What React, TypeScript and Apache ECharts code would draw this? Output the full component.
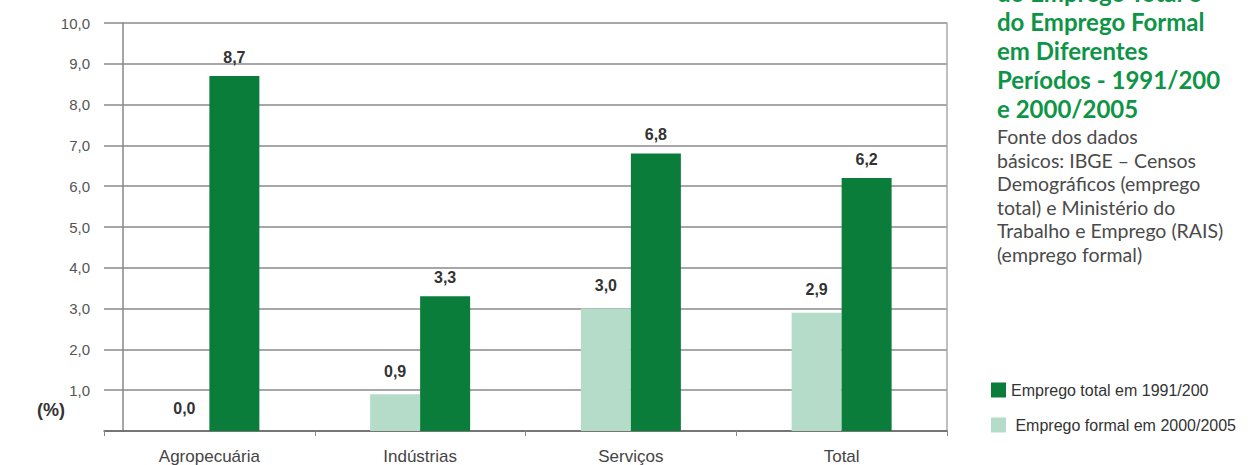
import React, { useEffect, useRef } from "react";
import * as echarts from "echarts";

const categories = ["Agropecuária", "Indústrias", "Serviços", "Total"];
const empregoFormal = [0.0, 0.9, 3.0, 2.9];
const empregoTotal = [8.7, 3.3, 6.8, 6.2];
const yMin = 0;
const yMax = 10;
const yInterval = 1;

const titleLines = [
  "do Emprego Total e",
  "do Emprego Formal",
  "em Diferentes",
  "Períodos - 1991/200",
  "e 2000/2005",
];
const sourceLines = [
  "Fonte dos dados",
  "básicos: IBGE – Censos",
  "Demográficos (emprego",
  "total) e Ministério do",
  "Trabalho e Emprego (RAIS)",
  "(emprego formal)",
];
const seriesNames = ["Emprego total em 1991/200", " Emprego formal em 2000/2005"];

const DARK = "#0a7d3b";
const LIGHT = "#b4dcc8";
const NARROW = "'Liberation Sans Narrow', 'Liberation Sans', Arial, sans-serif";
const fmt = (v: number) => v.toFixed(1).replace(".", ",");

export default function App() {
  const ref = useRef<HTMLDivElement>(null);
  useEffect(() => {
    if (!ref.current) return;
    const chart = echarts.init(ref.current, null, { renderer: "svg" });
    const valueLabel = {
      show: true,
      position: "top",
      distance: 11,
      fontSize: 16,
      fontWeight: "bold",
      color: "#333",
      fontFamily: NARROW,
      formatter: (p: any) => fmt(p.value),
    };
    chart.setOption({
      animation: false,
      backgroundColor: "#ffffff",
      grid: { left: 104, top: 23, width: 843, height: 410, containLabel: false },
      legend: {
        orient: "vertical",
        left: 986,
        top: 377,
        itemWidth: 15,
        itemHeight: 15,
        itemGap: 19,
        itemStyle: { borderWidth: 0 },
        icon: "rect",
        data: [seriesNames[0], seriesNames[1]],
        textStyle: { fontSize: 16, color: "#333", fontFamily: NARROW },
      },
      xAxis: {
        type: "category",
        data: categories,
        axisLine: { show: true, lineStyle: { color: "#666", width: 1.5 } },
        axisTick: { show: true, length: 5, lineStyle: { color: "#888" } },
        axisLabel: { fontSize: 17, color: "#444", margin: 17, fontFamily: NARROW },
      },
      yAxis: [
        {
          type: "value",
          min: yMin,
          max: yMax,
          interval: yInterval,
          offset: -19,
          axisLine: { show: true, lineStyle: { color: "#888", width: 1.5 } },
          axisTick: { show: false },
          axisLabel: {
            showMinLabel: false,
            margin: 33,
            fontSize: 15,
            color: "#555",
            fontFamily: NARROW,
            formatter: (v: number) => fmt(v),
          },
          splitLine: { show: true, lineStyle: { color: "#8a8a8a", width: 1.5 } },
        },
        {
          type: "value",
          position: "right",
          min: yMin,
          max: yMax,
          interval: yInterval,
          axisLine: { show: true, lineStyle: { color: "#aaa", width: 1.5 } },
          axisTick: { show: false },
          axisLabel: { show: false },
          splitLine: { show: false },
        },
      ],
      series: [
        {
          name: seriesNames[1],
          type: "bar",
          data: empregoFormal,
          barWidth: 50,
          barGap: "0%",
          itemStyle: { color: LIGHT },
          label: { ...valueLabel, distance: 15 },
        },
        {
          name: seriesNames[0],
          type: "bar",
          data: empregoTotal,
          barWidth: 50,
          barGap: "0%",
          itemStyle: { color: DARK },
          label: valueLabel,
        },
      ],
      graphic: [
        {
          type: "text",
          left: 37,
          top: 401,
          style: {
            text: "(%)",
            fontSize: 18,
            fontWeight: "bold",
            fill: "#333",
            fontFamily: NARROW,
          },
        },
        {
          type: "text",
          x: 997,
          y: -22,
          style: {
            text: titleLines.join("\n"),
            fontSize: 24,
            lineHeight: 29,
            fontWeight: "bold",
            fill: "#0e9446",
            fontFamily: "Lato, 'Noto Sans', sans-serif",
            verticalAlign: "top",
          },
        },
        {
          type: "text",
          x: 997,
          y: 125,
          style: {
            text: sourceLines.join("\n"),
            fontSize: 19.5,
            lineHeight: 23.5,
            fill: "#4a4a4a",
            fontFamily: "Lato, 'Open Sans', sans-serif",
            verticalAlign: "top",
          },
        },
      ],
    });
    return () => chart.dispose();
  }, []);
  return (
    <div
      ref={ref}
      style={{ position: "fixed", left: 0, top: 0, width: 1256, height: 465 }}
    />
  );
}
